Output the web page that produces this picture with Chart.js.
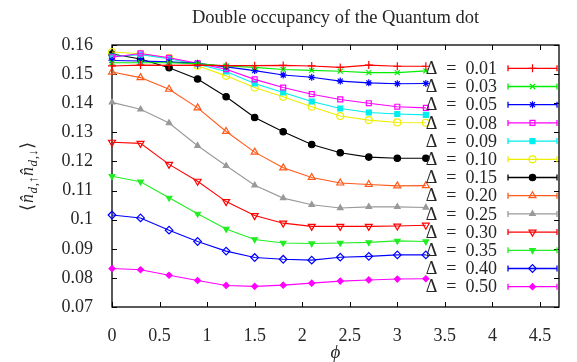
<!DOCTYPE html>
<html><head><meta charset="utf-8">
<script src="https://cdn.jsdelivr.net/npm/chart.js@4.4.1/dist/chart.umd.min.js"></script>
<style>html,body{margin:0;padding:0;background:#fff}</style>
</head><body>
<canvas id="c" width="577" height="362"></canvas>
<script>
const phi = [0, 0.3, 0.6, 0.9, 1.2, 1.5, 1.8, 2.1, 2.4, 2.7, 3.0, 3.3];
const deltaLabels = ['0.01','0.03','0.05','0.08','0.09','0.10','0.15','0.20','0.25','0.30','0.35','0.40','0.50'];
const d001 = [0.1528, 0.1531, 0.1530, 0.1531, 0.1529, 0.1529, 0.1530, 0.1528, 0.1523, 0.1531, 0.1527, 0.1527];
const d003 = [0.1539, 0.1539, 0.1539, 0.1536, 0.1528, 0.1523, 0.1516, 0.1513, 0.1510, 0.1505, 0.1505, 0.1511];
const d005 = [0.1547, 0.1545, 0.1542, 0.1537, 0.1525, 0.1512, 0.1497, 0.1489, 0.1476, 0.1470, 0.1467, 0.1468];
const d008 = [0.1558, 0.1571, 0.1556, 0.1537, 0.1517, 0.1482, 0.1454, 0.1431, 0.1413, 0.1400, 0.1388, 0.1384];
const d009 = [0.1560, 0.1567, 0.1553, 0.1534, 0.1509, 0.1468, 0.1437, 0.1406, 0.1382, 0.1368, 0.1363, 0.1360];
const d010 = [0.1576, 0.1570, 0.1556, 0.1529, 0.1494, 0.1454, 0.1422, 0.1388, 0.1356, 0.1342, 0.1334, 0.1333];
const d015 = [0.1569, 0.1552, 0.1522, 0.1483, 0.1422, 0.1351, 0.1302, 0.1258, 0.1230, 0.1215, 0.1211, 0.1211];
const d020 = [0.1507, 0.1488, 0.1448, 0.1384, 0.1303, 0.1232, 0.1178, 0.1145, 0.1126, 0.1121, 0.1116, 0.1117];
const d025 = [0.1403, 0.1379, 0.1332, 0.1254, 0.1185, 0.1118, 0.1074, 0.1051, 0.1040, 0.1044, 0.1044, 0.1042];
const d030 = [0.1266, 0.1262, 0.1190, 0.1132, 0.1062, 0.1014, 0.0988, 0.0977, 0.0977, 0.0977, 0.0978, 0.0981];
const d035 = [0.1149, 0.1130, 0.1075, 0.1020, 0.0968, 0.0932, 0.0920, 0.0918, 0.0920, 0.0922, 0.0927, 0.0925];
const d040 = [0.1016, 0.1006, 0.0964, 0.0925, 0.0892, 0.0870, 0.0864, 0.0861, 0.0871, 0.0874, 0.0879, 0.0879];
const d050 = [0.0832, 0.0828, 0.0809, 0.0791, 0.0774, 0.0771, 0.0775, 0.0782, 0.0789, 0.0793, 0.0796, 0.0797];
const seriesValues = [d001, d003, d005, d008, d009, d010, d015, d020, d025, d030, d035, d040, d050];

const colors = ['#ff0000','#00ee00','#0000ff','#ff00ff','#00eeee','#eeee00','#000000','#ff5a1a','#999999','#ff0000','#22ee22','#0000ff','#ff00ff'];
const markers = [
  {style:'cross', r:4, fill:false, rot:0},
  {style:'crossRot', r:3.5, fill:false, rot:0},
  {style:'star', r:3.5, fill:false, rot:0},
  {style:'rect', r:3.5, fill:false, rot:0},
  {style:'rect', r:3.5, fill:true, rot:0},
  {style:'circle', r:3.5, fill:false, rot:0},
  {style:'circle', r:3.2, fill:true, rot:0},
  {style:'triangle', r:4, fill:false, rot:0},
  {style:'triangle', r:3.2, fill:true, rot:0},
  {style:'triangle', r:4, fill:false, rot:180},
  {style:'triangle', r:3.2, fill:true, rot:180},
  {style:'rectRot', r:3.8, fill:false, rot:0},
  {style:'rectRot', r:3, fill:true, rot:0}
];
const FONT = "'Liberation Serif', 'Times New Roman', serif";
const TXT = '#262626';

const datasets = seriesValues.map((vals, i) => ({
  label: '\u0394\u2002=\u2002' + deltaLabels[i],
  data: phi.map((p, j) => ({x: p, y: vals[j]})),
  borderColor: colors[i],
  backgroundColor: colors[i],
  borderWidth: 1.1,
  pointStyle: markers[i].style,
  pointRadius: markers[i].r,
  pointRotation: markers[i].rot,
  pointBorderWidth: 1.2,
  pointBackgroundColor: markers[i].fill ? colors[i] : 'rgba(0,0,0,0)',
  pointBorderColor: colors[i],
  tension: 0,
  clip: false
}));

const framePlugin = {
  id: 'frame',
  beforeDatasetsDraw(chart) {
    const {ctx, chartArea: a, scales} = chart;
    ctx.save();
    ctx.strokeStyle = '#000';
    ctx.lineWidth = 1.3;
    ctx.strokeRect(a.left, a.top, a.right - a.left, a.bottom - a.top);
    ctx.lineWidth = 1;
    const L = 5;
    ctx.beginPath();
    scales.x.ticks.forEach(t => {
      const px = Math.round(scales.x.getPixelForValue(t.value)) + 0.5;
      ctx.moveTo(px, a.bottom); ctx.lineTo(px, a.bottom - L);
      ctx.moveTo(px, a.top); ctx.lineTo(px, a.top + L);
    });
    scales.y.ticks.forEach(t => {
      const py = Math.round(scales.y.getPixelForValue(t.value)) + 0.5;
      ctx.moveTo(a.left, py); ctx.lineTo(a.left + L, py);
      ctx.moveTo(a.right, py); ctx.lineTo(a.right - L, py);
    });
    ctx.stroke();
    ctx.restore();
  },
  afterDraw(chart) {
    const {ctx, chartArea: a} = chart;
    ctx.save();
    const x0 = a.right - 51, x1 = a.right - 2, xm = (x0 + x1) / 2;
    chart.data.datasets.forEach((ds, i) => {
      const y = a.top + 23.3 + i * 18.2;
      ctx.fillStyle = TXT;
      ctx.font = '18px ' + FONT;
      ctx.textAlign = 'right';
      ctx.textBaseline = 'middle';
      ctx.fillText(ds.label, a.right - 62, y + 1);
      ctx.strokeStyle = ds.borderColor;
      ctx.lineWidth = 1.3;
      ctx.beginPath();
      ctx.moveTo(x0, y); ctx.lineTo(x1, y);
      ctx.moveTo(x0, y - 3); ctx.lineTo(x0, y + 3);
      ctx.moveTo(x1, y - 3); ctx.lineTo(x1, y + 3);
      ctx.stroke();
      if (Chart.helpers && Chart.helpers.drawPoint) {
        ctx.fillStyle = ds.pointBackgroundColor;
        ctx.strokeStyle = ds.borderColor;
        ctx.lineWidth = 1.2;
        Chart.helpers.drawPoint(ctx, {pointStyle: ds.pointStyle, radius: ds.pointRadius, rotation: ds.pointRotation, borderWidth: 1.2}, xm, y);
      }
    });
    ctx.restore();
    ctx.save();
    ctx.translate(27, (a.top + a.bottom) / 2);
    ctx.rotate(-Math.PI / 2);
    ctx.fillStyle = TXT;
    ctx.textBaseline = 'alphabetic';
    ctx.textAlign = 'left';
    const parts = [
      {t: '\u27E8', f: '18px ' + FONT, dy: 0},
      {t: 'n\u0302', f: 'italic 18px ' + FONT, dy: 0},
      {t: 'd', f: 'italic 13px ' + FONT, dy: 3.5},
      {t: ',\u2191', f: '13px ' + FONT, dy: 3.5},
      {t: 'n\u0302', f: 'italic 18px ' + FONT, dy: 0},
      {t: 'd', f: 'italic 13px ' + FONT, dy: 3.5},
      {t: ',\u2193', f: '13px ' + FONT, dy: 3.5},
      {t: '\u27E9', f: '18px ' + FONT, dy: 0}
    ];
    let w = 0;
    parts.forEach(p => { ctx.font = p.f; p.w = ctx.measureText(p.t).width; w += p.w + 0.6; });
    let x = -w / 2;
    parts.forEach(p => { ctx.font = p.f; ctx.fillText(p.t, x, 6 + p.dy); x += p.w + 0.6; });
    ctx.restore();
  }
};

new Chart(document.getElementById('c'), {
  type: 'line',
  data: {datasets},
  options: {
    responsive: false,
    animation: false,
    layout: {padding: {left: 0, right: 18, top: 0, bottom: 0}},
    plugins: {
      legend: {display: false},
      tooltip: {enabled: false},
      title: {
        display: true,
        text: 'Double occupancy of the Quantum dot',
        fullSize: false,
        color: TXT,
        font: {family: FONT, size: 18.5, weight: 'normal', lineHeight: 1.2},
        padding: {top: 7, bottom: 15.8}
      }
    },
    scales: {
      x: {
        type: 'linear',
        min: 0, max: 4.7,
        grid: {display: false},
        border: {display: false},
        ticks: {
          stepSize: 0.5, includeBounds: false, maxRotation: 0, autoSkip: false,
          color: TXT, padding: 10,
          font: {family: FONT, size: 18},
          callback: v => String(+v.toFixed(1))
        },
        title: {display: true, text: '\u03D5', color: TXT, font: {family: FONT, size: 19, style: 'italic', lineHeight: 1.0}, padding: {top: 0, bottom: 0}},
        afterFit: s => { s.height = 55; }
      },
      y: {
        type: 'linear',
        min: 0.07, max: 0.16,
        grid: {display: false},
        border: {display: false},
        ticks: {
          stepSize: 0.01, includeBounds: false, autoSkip: false,
          color: TXT, padding: 11,
          font: {family: FONT, size: 18},
          callback: v => String(+v.toFixed(2))
        },
        afterFit: s => { s.width = 112; }
      }
    }
  },
  plugins: [framePlugin]
});
</script>
</body></html>
